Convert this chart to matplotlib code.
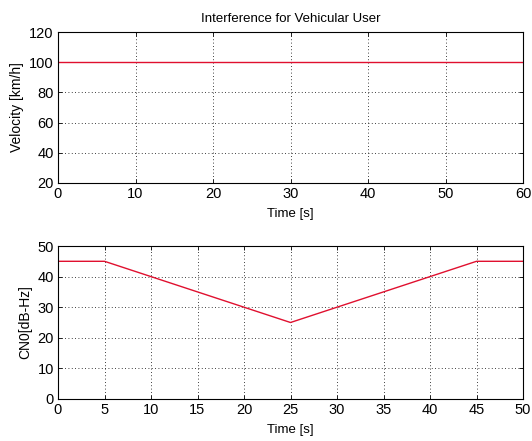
import matplotlib
matplotlib.use("Agg")
import matplotlib.pyplot as plt

# Velocity profile
vel_time = [0, 60]
vel_kmh = [100, 100]

# C/N0 profile
cn0_time = [0, 5, 25, 45, 50]
cn0_dbhz = [45, 45, 25, 45, 45]

plt.rcParams['font.family'] = ['Liberation Sans', 'DejaVu Sans']
plt.rcParams['font.size'] = 9.5

fig = plt.figure(figsize=(5.32, 4.41), dpi=100)
W, H = 532, 441
ax1 = fig.add_axes([58 / W, 1 - 183 / H, (523 - 58) / W, (183 - 32) / H])
ax2 = fig.add_axes([58 / W, 1 - 399 / H, (523 - 58) / W, (399 - 246) / H])


def style(ax):
    ax.grid(True, color='black', linestyle=(0, (1, 3)), linewidth=0.6)
    ax.tick_params(direction='in', top=True, right=True, length=3, width=0.6,
                   labelsize=10.5, pad=3)
    for s in ax.spines.values():
        s.set_linewidth(0.8)


ax1.plot(vel_time, vel_kmh, color='#e0102f', linewidth=1.0)
ax1.set_xlim(0, 60)
ax1.set_ylim(20, 120)
ax1.set_xticks(range(0, 61, 10))
ax1.set_yticks(range(20, 121, 20))
ax1.set_xlabel('Time [s]', labelpad=5)
ax1.set_ylabel('Velocity [km/h]', fontsize=10, labelpad=4)
ax1.set_title('Interference for Vehicular User', fontsize=9.5, pad=7)
style(ax1)

ax2.plot(cn0_time, cn0_dbhz, color='#e0102f', linewidth=1.0)
ax2.set_xlim(0, 50)
ax2.set_ylim(0, 50)
ax2.set_xticks(range(0, 51, 5))
ax2.set_yticks(range(0, 51, 10))
ax2.set_xlabel('Time [s]', labelpad=5)
ax2.set_ylabel('CN0[dB-Hz]', fontsize=10, labelpad=4)
style(ax2)

fig.savefig('out.png', dpi=100)
